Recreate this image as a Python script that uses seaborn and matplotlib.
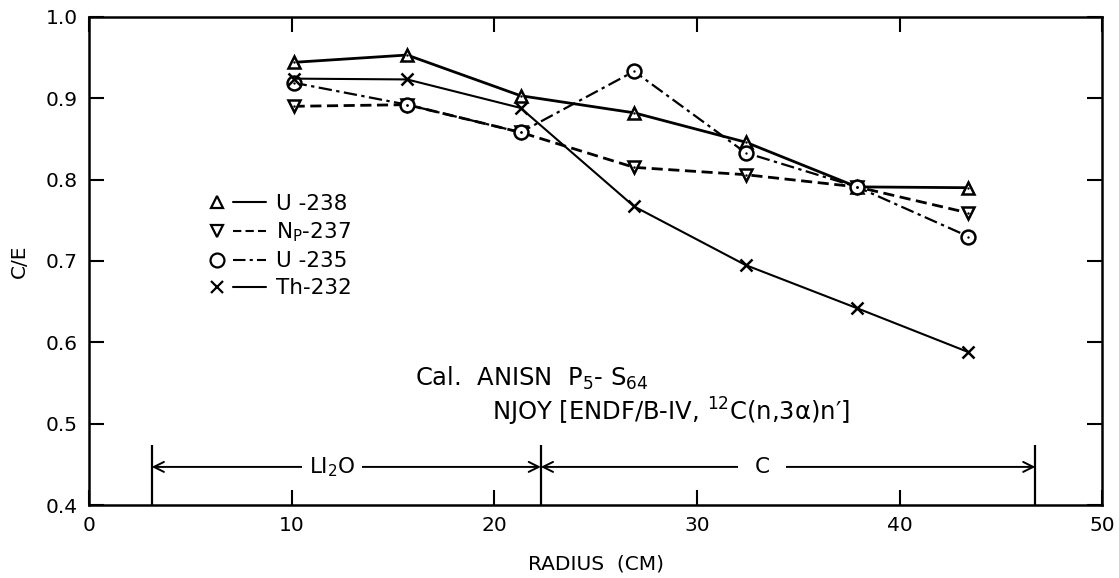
import numpy as np
import pandas as pd
import matplotlib
matplotlib.use("Agg")
import matplotlib.pyplot as plt
from matplotlib.lines import Line2D
from matplotlib.legend_handler import HandlerTuple
import seaborn as sns

# ---------------- data ----------------
radius = [10.1, 15.7, 21.3, 26.9, 32.4, 37.9, 43.4]
u238 = [0.944, 0.953, 0.903, 0.882, 0.846, 0.791, 0.790]
np237 = [0.890, 0.892, 0.858, 0.815, 0.806, 0.791, 0.759]
u235 = [0.919, 0.892, 0.858, 0.933, 0.833, 0.791, 0.730]
th232 = [0.924, 0.923, 0.888, 0.767, 0.695, 0.642, 0.588]
series_labels = ["U -238", r"N$_\mathregular{P}$-237", "U -235", "Th-232"]
region_bounds = [3.1, 22.3, 46.7]
region_labels = [r"LI$_2$O", "C"]
xticks = [0, 10, 20, 30, 40, 50]
yticks = [0.4, 0.5, 0.6, 0.7, 0.8, 0.9, 1.0]

sns.set_style("ticks")
plt.rcParams["font.family"] = ["DejaVu Sans"]
plt.rcParams["text.color"] = "black"
plt.rcParams["axes.labelcolor"] = "black"

fig = plt.figure(figsize=(11.19, 5.78), dpi=100)
ax = fig.add_subplot(111)
fig.subplots_adjust(left=0.0795, right=0.985, top=0.971, bottom=0.126)

styles = [
    dict(y=u238, ls="-", lw=2.0, marker="^", dot=True),
    dict(y=np237, ls=(0, (4, 2)), lw=2.0, marker="v", dot=True),
    dict(y=u235, ls=(0, (6, 2, 1.5, 2)), lw=1.6, marker="o", dot=True),
    dict(y=th232, ls="-", lw=1.5, marker="x", dot=False),
]

handles = []
for st, lab in zip(styles, series_labels):
    df = pd.DataFrame({"r": radius, "ce": st["y"]})
    ms = 9 if st["marker"] != "o" else 10
    sns.lineplot(data=df, x="r", y="ce", ax=ax, color="black",
                 linestyle=st["ls"], linewidth=st["lw"],
                 marker=st["marker"], markersize=ms,
                 markerfacecolor="white", markeredgecolor="black",
                 markeredgewidth=1.8, zorder=3)
    if st["dot"]:
        sns.scatterplot(data=df, x="r", y="ce", ax=ax, color="black",
                        marker="o", s=3, zorder=4, linewidth=0)
    mk = Line2D([], [], color="black", marker=st["marker"], linestyle="none",
                markersize=ms, markerfacecolor="white", markeredgewidth=1.6)
    ln = Line2D([], [], color="black", linestyle=st["ls"], linewidth=1.5)
    handles.append((mk, ln))

leg = ax.legend(handles, series_labels, handler_map={tuple: HandlerTuple(ndivide=None, pad=0.0)},
                loc="upper left", bbox_to_anchor=(0.1, 0.66), frameon=False,
                fontsize=15.5, handlelength=3.0, handletextpad=0.5, labelspacing=0.33,
                borderpad=0)
for t in leg.get_texts():
    t.set_color("black")

# region markers
yb = 0.447
for xb in region_bounds:
    ax.vlines(xb, 0.4, 0.474, color="black", lw=1.6)
ax.annotate("", xy=(region_bounds[0], yb), xytext=(region_bounds[1], yb),
            arrowprops=dict(arrowstyle="<->", color="black", lw=1.4, mutation_scale=18,
                            shrinkA=0, shrinkB=0))
ax.annotate("", xy=(region_bounds[1], yb), xytext=(region_bounds[2], yb),
            arrowprops=dict(arrowstyle="<->", color="black", lw=1.4, mutation_scale=18,
                            shrinkA=0, shrinkB=0))
ax.text(12.0, yb, region_labels[0], ha="center", va="center", fontsize=15.5,
        bbox=dict(facecolor="white", edgecolor="none", pad=5))
ax.text(33.2, yb, region_labels[1], ha="center", va="center", fontsize=15.5,
        bbox=dict(facecolor="white", edgecolor="none", pad=12))

ax.text(16.1, 0.556, r"Cal.  ANISN  P$_5$- S$_{64}$", ha="left", va="center", fontsize=17.5)
ax.text(19.9, 0.514, r"NJOY [ENDF/B-IV, $^{12}$C(n,3α)n′]", ha="left", va="center", fontsize=17.5)

ax.set_xlim(0, 50)
ax.set_ylim(0.4, 1.0)
ax.set_xticks(xticks)
ax.set_yticks(yticks)
ax.set_xticklabels([str(v) for v in xticks])
ax.set_yticklabels([f"{v:.1f}" for v in yticks])
ax.tick_params(direction="in", length=11, width=1.5, top=True, right=True,
               labelsize=14.5, colors="black", pad=8)
for sp in ax.spines.values():
    sp.set_visible(True)
    sp.set_linewidth(1.8)
    sp.set_color("black")
ax.set_xlabel("RADIUS  (CM)", fontsize=14.5, labelpad=14)
ax.set_ylabel("C/E", fontsize=14.5, labelpad=12)

fig.savefig("out.png", dpi=100)
